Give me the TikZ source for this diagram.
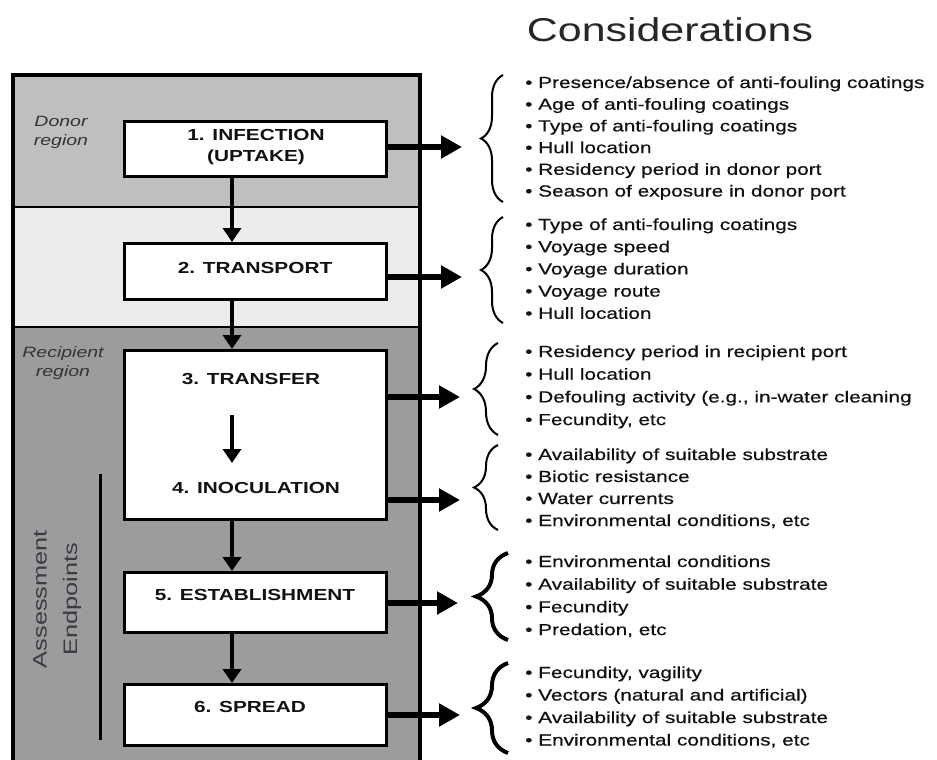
\documentclass[tikz,border=0pt]{standalone}
\usepackage{fontspec}
\setmainfont{Liberation Sans}[FakeStretch=1.3]
\newfontfamily\listfont{Liberation Sans}[FakeStretch=1.3,FakeBold=0.6]
\usetikzlibrary{arrows.meta,decorations.pathreplacing,calc}
\definecolor{donor}{HTML}{BFBFBF}
\definecolor{transit}{HTML}{ECECEC}
\definecolor{recip}{HTML}{9C9C9C}
\definecolor{ink}{HTML}{111111}
\definecolor{asscol}{HTML}{3A3A44}
\tikzset{
 stage/.style={draw=black, line width=3pt, fill=white, inner sep=0pt},
 stagelabel/.style={font=\bfseries\fontsize{16}{21}\selectfont, text=ink, inner sep=0pt, align=center},
 flow/.style={line width=4.5pt, -{Triangle[length=14pt,width=18pt]}},
 outflow/.style={line width=6pt, -{Triangle[length=21pt,width=22pt]}},
 item/.style={anchor=west, inner sep=0pt, font=\listfont\fontsize{16}{20}\selectfont, text=ink, text height=12pt, text depth=4pt},
 thinbrace/.style={decorate, decoration={brace, amplitude=22pt}, line width=2pt},
 midbrace/.style={decorate, decoration={brace, amplitude=24pt}, line width=2pt},
 thickbrace/.style={decorate, decoration={brace, amplitude=32pt}, line width=4pt},
 regionlabel/.style={font=\itshape\fontsize{15}{19}\selectfont, text=black!80, align=center, inner sep=0pt},
 asslabel/.style={font=\fontsize{19.5}{24}\selectfont, text=asscol, rotate=90, inner sep=0pt},
}
\begin{document}
\begin{tikzpicture}[x=1pt,y=-1pt]
\useasboundingbox (0,0) rectangle (937,760);
\clip (0,0) rectangle (937,760);
% regions
\fill[donor] (13,75) rectangle (420,207);
\fill[transit] (13,207) rectangle (420,327);
\fill[recip] (13,327) rectangle (420,775);
\draw[line width=2.5pt] (13,207) -- (420,207);
\draw[line width=2.5pt] (13,327) -- (420,327);
\draw[line width=4pt] (13,775) -- (13,75) -- (420,75) -- (420,775);
% region labels
\node[regionlabel] (donorlab) at (61,132) {Donor\\region};
\node[regionlabel] (reciplab) at (63,363) {Recipient\\region};
% assessment endpoints
\draw[line width=3pt] (100,474) -- (100,740);
\node[asslabel] (ass1) at (40,599) {Assessment};
\node[asslabel] (ass2) at (72,599) {Endpoints};
% stage boxes
\node[stage, minimum width=262pt, minimum height=55pt] (b1) at (255,149) {};
\node[stage, minimum width=262pt, minimum height=56pt] (b2) at (255,271.5) {};
\node[stage, minimum width=262pt, minimum height=169pt] (b34) at (255,435) {};
\node[stage, minimum width=262pt, minimum height=60pt] (b5) at (255,602.5) {};
\node[stage, minimum width=262pt, minimum height=61pt] (b6) at (255,715) {};
% stage labels
\node[stagelabel] (t1) at (256,147.5) {1. INFECTION\\(UPTAKE)};
\node[stagelabel] (t2) at (255,268) {2. TRANSPORT};
\node[stagelabel] (t3) at (251,379) {3. TRANSFER};
\node[stagelabel] (t4) at (256,488) {4. INOCULATION};
\node[stagelabel] (t5) at (255,595) {5. ESTABLISHMENT};
\node[stagelabel] (t6) at (250,707) {6. SPREAD};
% vertical flow
\coordinate (ax) at (232,0);
\draw[flow] (b1.south -| ax) -- (b2.north -| ax);
\draw[flow] (b2.south -| ax) -- (b34.north -| ax);
\coordinate (i3) at (232,415);
\coordinate (i4) at (232,463);
\draw[flow] (i3) -- (i4);
\draw[flow] (b34.south -| ax) -- (b5.north -| ax);
\draw[flow] (b5.south -| ax) -- (b6.north -| ax);
% outgoing arrows
\coordinate (o1) at (462,147);
\coordinate (o2) at (462,277);
\coordinate (o3) at (460,397);
\coordinate (o4) at (460,500);
\coordinate (o5) at (458,603);
\coordinate (o6) at (460,715);
\draw[outflow] (b1.east |- o1) -- (o1);
\draw[outflow] (b2.east |- o2) -- (o2);
\draw[outflow] (b34.east |- o3) -- (o3);
\draw[outflow] (b34.east |- o4) -- (o4);
\draw[outflow] (b5.east |- o5) -- (o5);
\draw[outflow] (b6.east |- o6) -- (o6);
% title
\node[font=\fontsize{33}{40}\selectfont, text=black!85, inner sep=0pt] (title) at (670,30) {Considerations};
% braces
\draw[thinbrace] (503,202) -- (503,75);
\draw[thinbrace] (503,323) -- (503,217);
\draw[midbrace] (498,435) -- (498,343);
\draw[midbrace] (498,530) -- (498,445);
\draw[thickbrace] (508,640) -- (508,553);
\draw[thickbrace] (508,753) -- (508,663);
% lists
\foreach \t [count=\i] in {{Presence/absence of anti-fouling coatings},{Age of anti-fouling coatings},{Type of anti-fouling coatings},{Hull location},{Residency period in donor port},{Season of exposure in donor port}}
  \node[item] (la\i) at (525,{84+21.7*(\i-1)}) {\textbullet\ \t};
\foreach \t [count=\i] in {{Type of anti-fouling coatings},{Voyage speed},{Voyage duration},{Voyage route},{Hull location}}
  \node[item] (lb\i) at (525,{226+22.2*(\i-1)}) {\textbullet\ \t};
\foreach \t [count=\i] in {{Residency period in recipient port},{Hull location},{Defouling activity (e.g., in-water cleaning},{Fecundity, etc}}
  \node[item] (lc\i) at (525,{353+22.7*(\i-1)}) {\textbullet\ \t};
\foreach \t [count=\i] in {{Availability of suitable substrate},{Biotic resistance},{Water currents},{Environmental conditions, etc}}
  \node[item] (ld\i) at (525,{456+22*(\i-1)}) {\textbullet\ \t};
\foreach \t [count=\i] in {{Environmental conditions},{Availability of suitable substrate},{Fecundity},{Predation, etc}}
  \node[item] (le\i) at (525,{563+22.7*(\i-1)}) {\textbullet\ \t};
\foreach \t [count=\i] in {{Fecundity, vagility},{Vectors (natural and artificial)},{Availability of suitable substrate},{Environmental conditions, etc}}
  \node[item] (lf\i) at (525,{674+22.5*(\i-1)}) {\textbullet\ \t};
\end{tikzpicture}
\end{document}
